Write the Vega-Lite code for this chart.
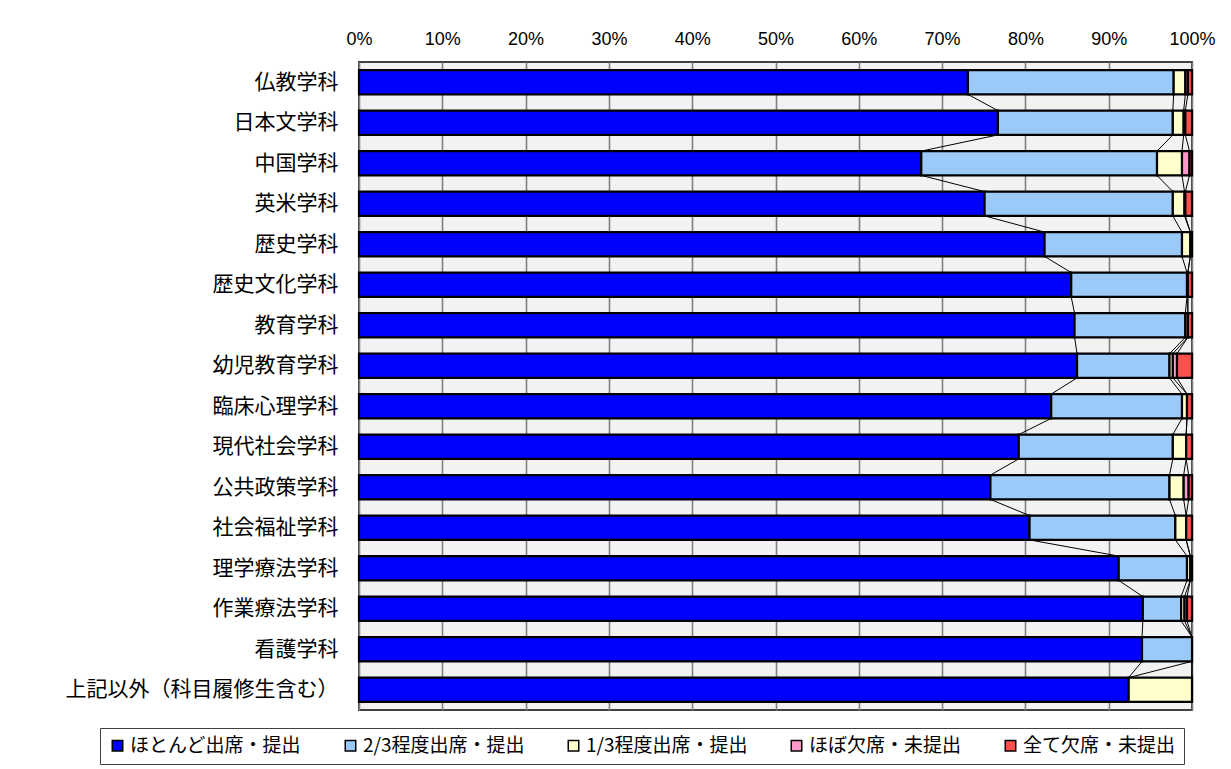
{
  "$schema": "https://vega.github.io/schema/vega-lite/v6.json",
  "width": 833,
  "height": 648,
  "autosize": {"type": "none"},
  "padding": {"left": 359, "top": 62, "right": 39, "bottom": 59},
  "background": "white",
  "config": {
    "view": {"fill": "#f2f2f2", "stroke": "#404040", "strokeWidth": 2},
    "font": "Noto Sans CJK JP"
  },
  "datasets": {
    "rows": [
      {"dept": "仏教学科", "d": 1, "status": "ほとんど出席・提出", "s": 1, "v": 73.1},
      {"dept": "仏教学科", "d": 1, "status": "2/3程度出席・提出", "s": 2, "v": 24.7},
      {"dept": "仏教学科", "d": 1, "status": "1/3程度出席・提出", "s": 3, "v": 1.4},
      {"dept": "仏教学科", "d": 1, "status": "ほぼ欠席・未提出", "s": 4, "v": 0.3},
      {"dept": "仏教学科", "d": 1, "status": "全て欠席・未提出", "s": 5, "v": 0.5},
      {"dept": "日本文学科", "d": 2, "status": "ほとんど出席・提出", "s": 1, "v": 76.7},
      {"dept": "日本文学科", "d": 2, "status": "2/3程度出席・提出", "s": 2, "v": 21.0},
      {"dept": "日本文学科", "d": 2, "status": "1/3程度出席・提出", "s": 3, "v": 1.3},
      {"dept": "日本文学科", "d": 2, "status": "ほぼ欠席・未提出", "s": 4, "v": 0.2},
      {"dept": "日本文学科", "d": 2, "status": "全て欠席・未提出", "s": 5, "v": 0.8},
      {"dept": "中国学科", "d": 3, "status": "ほとんど出席・提出", "s": 1, "v": 67.5},
      {"dept": "中国学科", "d": 3, "status": "2/3程度出席・提出", "s": 2, "v": 28.3},
      {"dept": "中国学科", "d": 3, "status": "1/3程度出席・提出", "s": 3, "v": 3.0},
      {"dept": "中国学科", "d": 3, "status": "ほぼ欠席・未提出", "s": 4, "v": 0.9},
      {"dept": "中国学科", "d": 3, "status": "全て欠席・未提出", "s": 5, "v": 0.3},
      {"dept": "英米学科", "d": 4, "status": "ほとんど出席・提出", "s": 1, "v": 75.1},
      {"dept": "英米学科", "d": 4, "status": "2/3程度出席・提出", "s": 2, "v": 22.6},
      {"dept": "英米学科", "d": 4, "status": "1/3程度出席・提出", "s": 3, "v": 1.4},
      {"dept": "英米学科", "d": 4, "status": "ほぼ欠席・未提出", "s": 4, "v": 0.1},
      {"dept": "英米学科", "d": 4, "status": "全て欠席・未提出", "s": 5, "v": 0.8},
      {"dept": "歴史学科", "d": 5, "status": "ほとんど出席・提出", "s": 1, "v": 82.3},
      {"dept": "歴史学科", "d": 5, "status": "2/3程度出席・提出", "s": 2, "v": 16.5},
      {"dept": "歴史学科", "d": 5, "status": "1/3程度出席・提出", "s": 3, "v": 1.0},
      {"dept": "歴史学科", "d": 5, "status": "ほぼ欠席・未提出", "s": 4, "v": 0.0},
      {"dept": "歴史学科", "d": 5, "status": "全て欠席・未提出", "s": 5, "v": 0.2},
      {"dept": "歴史文化学科", "d": 6, "status": "ほとんど出席・提出", "s": 1, "v": 85.5},
      {"dept": "歴史文化学科", "d": 6, "status": "2/3程度出席・提出", "s": 2, "v": 13.9},
      {"dept": "歴史文化学科", "d": 6, "status": "1/3程度出席・提出", "s": 3, "v": 0.1},
      {"dept": "歴史文化学科", "d": 6, "status": "ほぼ欠席・未提出", "s": 4, "v": 0.0},
      {"dept": "歴史文化学科", "d": 6, "status": "全て欠席・未提出", "s": 5, "v": 0.5},
      {"dept": "教育学科", "d": 7, "status": "ほとんど出席・提出", "s": 1, "v": 85.9},
      {"dept": "教育学科", "d": 7, "status": "2/3程度出席・提出", "s": 2, "v": 13.3},
      {"dept": "教育学科", "d": 7, "status": "1/3程度出席・提出", "s": 3, "v": 0.3},
      {"dept": "教育学科", "d": 7, "status": "ほぼ欠席・未提出", "s": 4, "v": 0.0},
      {"dept": "教育学科", "d": 7, "status": "全て欠席・未提出", "s": 5, "v": 0.5},
      {"dept": "幼児教育学科", "d": 8, "status": "ほとんど出席・提出", "s": 1, "v": 86.2},
      {"dept": "幼児教育学科", "d": 8, "status": "2/3程度出席・提出", "s": 2, "v": 11.1},
      {"dept": "幼児教育学科", "d": 8, "status": "1/3程度出席・提出", "s": 3, "v": 0.4},
      {"dept": "幼児教育学科", "d": 8, "status": "ほぼ欠席・未提出", "s": 4, "v": 0.5},
      {"dept": "幼児教育学科", "d": 8, "status": "全て欠席・未提出", "s": 5, "v": 1.8},
      {"dept": "臨床心理学科", "d": 9, "status": "ほとんど出席・提出", "s": 1, "v": 83.1},
      {"dept": "臨床心理学科", "d": 9, "status": "2/3程度出席・提出", "s": 2, "v": 15.7},
      {"dept": "臨床心理学科", "d": 9, "status": "1/3程度出席・提出", "s": 3, "v": 0.6},
      {"dept": "臨床心理学科", "d": 9, "status": "ほぼ欠席・未提出", "s": 4, "v": 0.0},
      {"dept": "臨床心理学科", "d": 9, "status": "全て欠席・未提出", "s": 5, "v": 0.6},
      {"dept": "現代社会学科", "d": 10, "status": "ほとんど出席・提出", "s": 1, "v": 79.2},
      {"dept": "現代社会学科", "d": 10, "status": "2/3程度出席・提出", "s": 2, "v": 18.5},
      {"dept": "現代社会学科", "d": 10, "status": "1/3程度出席・提出", "s": 3, "v": 1.6},
      {"dept": "現代社会学科", "d": 10, "status": "ほぼ欠席・未提出", "s": 4, "v": 0.0},
      {"dept": "現代社会学科", "d": 10, "status": "全て欠席・未提出", "s": 5, "v": 0.7},
      {"dept": "公共政策学科", "d": 11, "status": "ほとんど出席・提出", "s": 1, "v": 75.8},
      {"dept": "公共政策学科", "d": 11, "status": "2/3程度出席・提出", "s": 2, "v": 21.5},
      {"dept": "公共政策学科", "d": 11, "status": "1/3程度出席・提出", "s": 3, "v": 1.7},
      {"dept": "公共政策学科", "d": 11, "status": "ほぼ欠席・未提出", "s": 4, "v": 0.6},
      {"dept": "公共政策学科", "d": 11, "status": "全て欠席・未提出", "s": 5, "v": 0.4},
      {"dept": "社会福祉学科", "d": 12, "status": "ほとんど出席・提出", "s": 1, "v": 80.5},
      {"dept": "社会福祉学科", "d": 12, "status": "2/3程度出席・提出", "s": 2, "v": 17.5},
      {"dept": "社会福祉学科", "d": 12, "status": "1/3程度出席・提出", "s": 3, "v": 1.3},
      {"dept": "社会福祉学科", "d": 12, "status": "ほぼ欠席・未提出", "s": 4, "v": 0.0},
      {"dept": "社会福祉学科", "d": 12, "status": "全て欠席・未提出", "s": 5, "v": 0.7},
      {"dept": "理学療法学科", "d": 13, "status": "ほとんど出席・提出", "s": 1, "v": 91.2},
      {"dept": "理学療法学科", "d": 13, "status": "2/3程度出席・提出", "s": 2, "v": 8.2},
      {"dept": "理学療法学科", "d": 13, "status": "1/3程度出席・提出", "s": 3, "v": 0.4},
      {"dept": "理学療法学科", "d": 13, "status": "ほぼ欠席・未提出", "s": 4, "v": 0.0},
      {"dept": "理学療法学科", "d": 13, "status": "全て欠席・未提出", "s": 5, "v": 0.2},
      {"dept": "作業療法学科", "d": 14, "status": "ほとんど出席・提出", "s": 1, "v": 94.1},
      {"dept": "作業療法学科", "d": 14, "status": "2/3程度出席・提出", "s": 2, "v": 4.6},
      {"dept": "作業療法学科", "d": 14, "status": "1/3程度出席・提出", "s": 3, "v": 0.4},
      {"dept": "作業療法学科", "d": 14, "status": "ほぼ欠席・未提出", "s": 4, "v": 0.3},
      {"dept": "作業療法学科", "d": 14, "status": "全て欠席・未提出", "s": 5, "v": 0.6},
      {"dept": "看護学科", "d": 15, "status": "ほとんど出席・提出", "s": 1, "v": 94.0},
      {"dept": "看護学科", "d": 15, "status": "2/3程度出席・提出", "s": 2, "v": 6.0},
      {"dept": "看護学科", "d": 15, "status": "1/3程度出席・提出", "s": 3, "v": 0.0},
      {"dept": "看護学科", "d": 15, "status": "ほぼ欠席・未提出", "s": 4, "v": 0.0},
      {"dept": "看護学科", "d": 15, "status": "全て欠席・未提出", "s": 5, "v": 0.0},
      {"dept": "上記以外（科目履修生含む）", "d": 16, "status": "ほとんど出席・提出", "s": 1, "v": 92.4},
      {"dept": "上記以外（科目履修生含む）", "d": 16, "status": "2/3程度出席・提出", "s": 2, "v": 0.0},
      {"dept": "上記以外（科目履修生含む）", "d": 16, "status": "1/3程度出席・提出", "s": 3, "v": 7.6},
      {"dept": "上記以外（科目履修生含む）", "d": 16, "status": "ほぼ欠席・未提出", "s": 4, "v": 0.0},
      {"dept": "上記以外（科目履修生含む）", "d": 16, "status": "全て欠席・未提出", "s": 5, "v": 0.0}
    ]
  },
  "data": {"name": "rows"},
  "transform": [
    {"stack": "v", "groupby": ["dept"], "sort": [{"field": "s", "order": "ascending"}], "as": ["c0", "c1"], "offset": "normalize"}
  ],
  "encoding": {
    "y": {
      "field": "dept",
      "type": "nominal",
      "sort": {"field": "d", "op": "min", "order": "ascending"},
      "scale": {"paddingInner": 0.4, "paddingOuter": 0.2},
      "axis": {
        "title": null,
        "domain": false,
        "grid": false,
        "ticks": true,
        "tickBand": "extent",
        "tickSize": -6,
        "tickColor": "black",
        "tickWidth": 1,
        "zindex": 1,
        "labelFont": "Noto Sans CJK JP",
        "labelFontSize": 21,
        "labelColor": "black",
        "labelPadding": 27,
        "labelLimit": 500
      }
    }
  },
  "layer": [
    {
      "transform": [{"filter": "datum.v > 0"}],
      "mark": {"type": "bar", "stroke": "black", "strokeWidth": 2.2},
      "encoding": {
        "x": {
          "field": "c0",
          "type": "quantitative",
          "scale": {"domain": [0, 1], "nice": false},
          "axis": {
            "orient": "top",
            "title": null,
            "values": [0, 0.1, 0.2, 0.3, 0.4, 0.5, 0.6, 0.7, 0.8, 0.9, 1],
            "format": ".0%",
            "grid": true,
            "gridColor": "#808080",
            "gridWidth": 1.6,
            "gridOpacity": 1,
            "domain": false,
            "ticks": false,
            "labelFont": "Liberation Sans",
            "labelFontSize": 18,
            "labelColor": "black",
            "labelPadding": 14,
            "labelFlush": false
          }
        },
        "x2": {"field": "c1"},
        "color": {
          "field": "status",
          "type": "nominal",
          "sort": ["ほとんど出席・提出", "2/3程度出席・提出", "1/3程度出席・提出", "ほぼ欠席・未提出", "全て欠席・未提出"],
          "scale": {
            "domain": ["ほとんど出席・提出", "2/3程度出席・提出", "1/3程度出席・提出", "ほぼ欠席・未提出", "全て欠席・未提出"],
            "range": ["#0000ff", "#9ccaf8", "#ffffcc", "#ff99cc", "#ff5050"]
          },
          "legend": {
            "title": null,
            "orient": "none",
            "direction": "horizontal",
            "legendX": -259,
            "legendY": 666,
            "strokeColor": "#404040",
            "fillColor": "white",
            "padding": 8,
            "symbolType": "square",
            "symbolSize": 110,
            "symbolStrokeColor": "black",
            "symbolStrokeWidth": 1.5,
            "symbolOpacity": 1,
            "labelFont": "Noto Sans CJK JP",
            "labelFontSize": 19,
            "labelColor": "black",
            "labelOffset": 3,
            "labelLimit": 300,
            "columnPadding": 39
          }
        },
        "order": {"field": "s", "type": "quantitative"}
      }
    },
    {
      "transform": [
        {"window": [{"op": "lead", "field": "c1", "as": "nc1"}, {"op": "lead", "field": "dept", "as": "ndept"}], "groupby": ["status"], "sort": [{"field": "d", "order": "ascending"}]},
        {"filter": "datum.ndept != null && datum.s < 5"}
      ],
      "mark": {"type": "rule", "color": "black", "strokeWidth": 1},
      "encoding": {
        "x": {"field": "c1", "type": "quantitative"},
        "x2": {"field": "nc1"},
        "y": {"field": "dept", "type": "nominal", "bandPosition": 1, "sort": {"field": "d", "op": "min", "order": "ascending"}},
        "y2": {"field": "ndept", "bandPosition": 0}
      }
    }
  ]
}
